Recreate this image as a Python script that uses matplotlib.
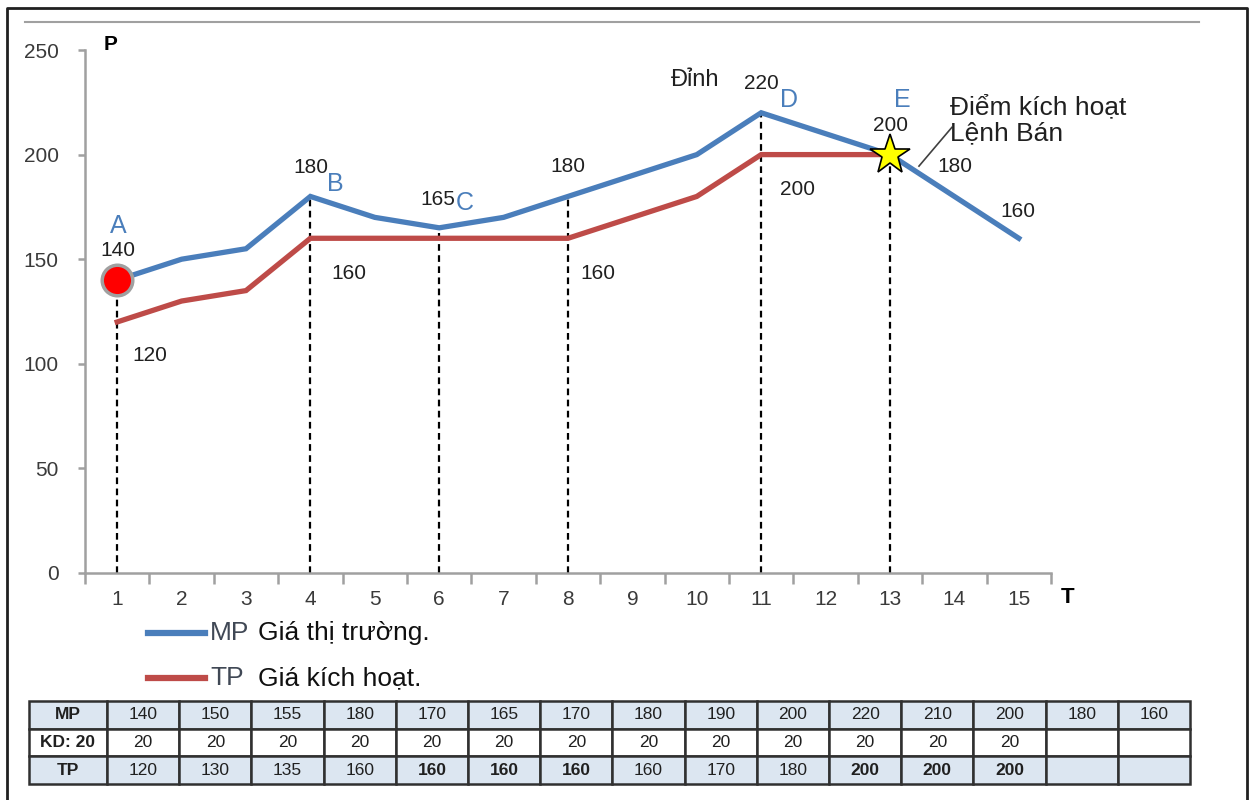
import matplotlib
matplotlib.use("Agg")
import matplotlib.pyplot as plt
from matplotlib.lines import Line2D

plt.rcParams['font.family'] = ['Liberation Sans', 'DejaVu Sans']

# ---- data ----
T = list(range(1, 16))
MP = [140, 150, 155, 180, 170, 165, 170, 180, 190, 200, 220, 210, 200, 180, 160]
KD = [20, 20, 20, 20, 20, 20, 20, 20, 20, 20, 20, 20, 20]
TP = [120, 130, 135, 160, 160, 160, 160, 160, 170, 180, 200, 200, 200]
TP_bold = [5, 6, 7, 11, 12, 13]
mark_T = [1, 4, 6, 8, 11, 13]
row_labels = ['MP', 'KD: 20', 'TP']

BLUE = '#4A7EBB'
RED = '#BE4B48'
W, H = 1251, 800

fig = plt.figure(figsize=(W / 100, H / 100), dpi=100)

def fx(px):
    return px / W

def fy(py):
    return 1 - py / H

# outer border (left, top, right)
fig.add_artist(Line2D([fx(7), fx(7), fx(1247), fx(1247)],
                      [fy(800), fy(8), fy(8), fy(800)],
                      color='#202020', lw=2, transform=fig.transFigure))
# top gray line
fig.add_artist(Line2D([fx(25), fx(1199)], [fy(22), fy(22)],
                      color='#a0a0a0', lw=1.5, transform=fig.transFigure))

ax = fig.add_axes([fx(85), fy(573), fx(1051) - fx(85), fy(50) - fy(573)])
ax.set_xlim(0.5, 15.5)
ax.set_ylim(0, 250)
for s in ['top', 'right']:
    ax.spines[s].set_visible(False)
for s in ['left', 'bottom']:
    ax.spines[s].set_color('#a0a0a0')
    ax.spines[s].set_linewidth(1.8)

ax.set_xticks(T)
ax.set_xticks([t - 0.5 for t in T] + [15.5], minor=True)
ax.tick_params(axis='x', which='major', length=0, pad=12, labelsize=15,
               labelcolor='#3a3a3a')
ax.tick_params(axis='x', which='minor', length=8, width=1.8, color='#a0a0a0',
               direction='out')
ax.set_yticks([0, 50, 100, 150, 200, 250])
ax.tick_params(axis='y', length=5, width=1.8, color='#a0a0a0', pad=14,
               labelsize=15, labelcolor='#3a3a3a')

# dashed verticals
for t in mark_T:
    ax.plot([t, t], [0, MP[t - 1]], color='black', lw=1.6,
            linestyle=(0, (3, 2)), zorder=1)

ax.plot(T, MP, color=BLUE, lw=3.8, zorder=3, solid_joinstyle='miter')
ax.plot(T[:len(TP)], TP, color=RED, lw=3.8, zorder=3, solid_joinstyle='miter')

ax.plot([T[0]], [MP[0]], 'o', ms=22, mfc='#ff0000', mec='#a0a0a0', mew=2.5,
        zorder=5)
ax.plot([T[12]], [MP[12]], '*', ms=30, mfc='#ffff00', mec='black', mew=1.2,
        zorder=5)

num = dict(fontsize=15, color='#202020', ha='center', va='center', zorder=6)
let = dict(fontsize=18, color=BLUE, ha='center', va='center', zorder=7)

ax.text(1.01, 166, 'A', **let)
ax.text(1.01, 154, '140', **num)
ax.text(1.51, 104, '120', **num)
ax.text(4.01, 194, '180', **num)
ax.text(4.38, 186, 'B', bbox=dict(facecolor='white', edgecolor='none', pad=0.5), **let)
ax.text(4.6, 143, '160', **num)
ax.text(5.98, 178.6, '165', **num)
ax.text(6.4, 176.8, 'C', bbox=dict(facecolor='white', edgecolor='none', pad=0.5), **let)
ax.text(8.0, 194.5, '180', **num)
ax.text(8.46, 143, '160', **num)
ax.text(9.97, 235.6, 'Đỉnh', fontsize=17, color='#202020', ha='center', va='center')
ax.text(11.0, 234.2, '220', **num)
ax.text(11.43, 226, 'D', **let)
ax.text(13.19, 226, 'E', **let)
ax.text(13.0, 214, '200', **num)
ax.text(11.57, 183.5, '200', **num)
ax.text(14.0, 194.5, '180', **num)
ax.text(14.99, 173, '160', **num)
ax.text(13.93, 216.4, 'Điểm kích hoạt\nLệnh Bán', fontsize=19, color='#202020',
        ha='left', va='center', linespacing=1.12)
ax.plot([13.45, 13.96], [194.5, 213], color='#404040', lw=1.2)

ax.text(0.89, 252.4, 'P', fontsize=15, fontweight='bold', color='black',
        ha='center', va='center', clip_on=False)
ax.text(15.76, -11.6, 'T', fontsize=16, fontweight='bold', color='black',
        ha='center', va='center', clip_on=False)

# legend
fig.add_artist(Line2D([fx(148), fx(205)], [fy(633), fy(633)], color=BLUE, lw=4.5,
                      transform=fig.transFigure))
fig.add_artist(Line2D([fx(148), fx(205)], [fy(678), fy(678)], color=RED, lw=4.5,
                      transform=fig.transFigure))
fig.text(fx(210), fy(633), 'MP', fontsize=19, color='#404855', va='center', ha='left')
fig.text(fx(258), fy(633), 'Giá thị trường.', fontsize=19, color='#101010',
         va='center', ha='left')
fig.text(fx(210), fy(678), 'TP', fontsize=19, color='#404855', va='center', ha='left')
fig.text(fx(258), fy(678), 'Giá kích hoạt.', fontsize=19, color='#101010',
         va='center', ha='left')

# table
tax = fig.add_axes([fx(29), fy(784), fx(1190) - fx(29), fy(701) - fy(784)])
tax.axis('off')
rows = []
rows.append([row_labels[0]] + [str(v) for v in MP])
rows.append([row_labels[1]] + [str(v) for v in KD] + [''] * (len(T) - len(KD)))
rows.append([row_labels[2]] + [str(v) for v in TP] + [''] * (len(T) - len(TP)))
hw = 78.0
cw = (1190 - 29 - hw) / len(T)
tot = hw + cw * len(T)
colw = [hw / tot] + [cw / tot] * len(T)
tbl = tax.table(cellText=rows, colWidths=colw, bbox=[0, 0, 1, 1], cellLoc='center')
tbl.auto_set_font_size(False)
for (r, c), cell in tbl.get_celld().items():
    cell.set_edgecolor('#303030')
    cell.set_linewidth(1.8)
    cell.set_facecolor('white' if r == 1 else '#DCE6F1')
    txt = cell.get_text()
    txt.set_fontsize(12.5)
    txt.set_color('#202020')
    if c == 0:
        txt.set_fontweight('bold')
    if r == 2 and c in TP_bold:
        txt.set_fontweight('bold')

fig.savefig('out.png', dpi=100)
